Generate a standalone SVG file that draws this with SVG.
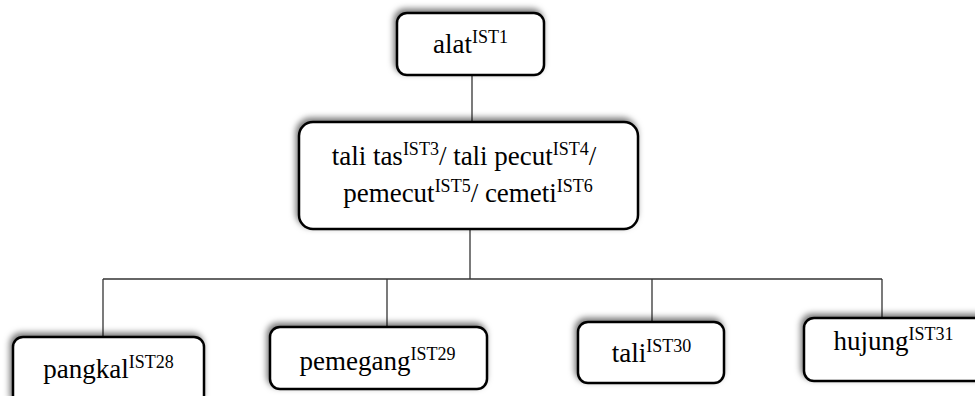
<svg xmlns="http://www.w3.org/2000/svg" width="975" height="396" viewBox="0 0 975 396">
<defs>
<filter id="sh" x="-20%" y="-30%" width="140%" height="160%">
<feDropShadow dx="-2" dy="-3" stdDeviation="3" flood-color="#000" flood-opacity="0.55"/>
</filter>
</defs>
<style>
.box{fill:#fff;stroke:#000;stroke-width:2.5;filter:url(#sh)}
.t{font-family:"Liberation Serif","Times New Roman",serif;font-size:27px;fill:#000;text-anchor:middle}
.s{font-size:18px}
.c{stroke:#333;stroke-width:1.3;fill:none}
</style>
<rect width="975" height="396" fill="#fff"/>
<g id="connectors">
<line class="c" x1="472" y1="75" x2="472" y2="122"/>
<line class="c" x1="470" y1="229" x2="470" y2="279"/>
<line class="c" x1="103" y1="279" x2="882" y2="279"/>
<line class="c" x1="103" y1="279" x2="103" y2="337"/>
<line class="c" x1="387" y1="279" x2="387" y2="327"/>
<line class="c" x1="652" y1="279" x2="652" y2="322"/>
<line class="c" x1="882" y1="279" x2="882" y2="318"/>
</g>
<g id="alat">
<rect class="box" x="397" y="13" width="147" height="62" rx="10"/>
<text class="t" x="470.5" y="53">alat<tspan class="s" dy="-10">IST1</tspan></text>
</g>
<g id="tali-tas">
<rect class="box" x="299" y="122" width="339" height="107" rx="14"/>
<text class="t" x="464" y="165">tali tas<tspan class="s" dy="-10">IST3</tspan><tspan dy="10">/ tali pecut</tspan><tspan class="s" dy="-10">IST4</tspan><tspan dy="10">/</tspan></text>
<text class="t" x="468" y="202">pemecut<tspan class="s" dy="-10">IST5</tspan><tspan dy="10">/ cemeti</tspan><tspan class="s" dy="-10">IST6</tspan></text>
</g>
<g id="pangkal">
<rect class="box" x="13" y="337" width="191" height="70" rx="10"/>
<text class="t" x="108.5" y="378">pangkal<tspan class="s" dy="-10">IST28</tspan></text>
</g>
<g id="pemegang">
<rect class="box" x="270" y="327" width="217" height="62" rx="10"/>
<text class="t" x="377.5" y="370">pemegang<tspan class="s" dy="-10">IST29</tspan></text>
</g>
<g id="tali">
<rect class="box" x="578" y="322" width="146" height="61" rx="10"/>
<text class="t" x="651.5" y="362">tali<tspan class="s" dy="-10">IST30</tspan></text>
</g>
<g id="hujung">
<rect class="box" x="804" y="318" width="190" height="63" rx="10"/>
<text class="t" x="893.5" y="350">hujung<tspan class="s" dy="-10">IST31</tspan></text>
</g>
</svg>
